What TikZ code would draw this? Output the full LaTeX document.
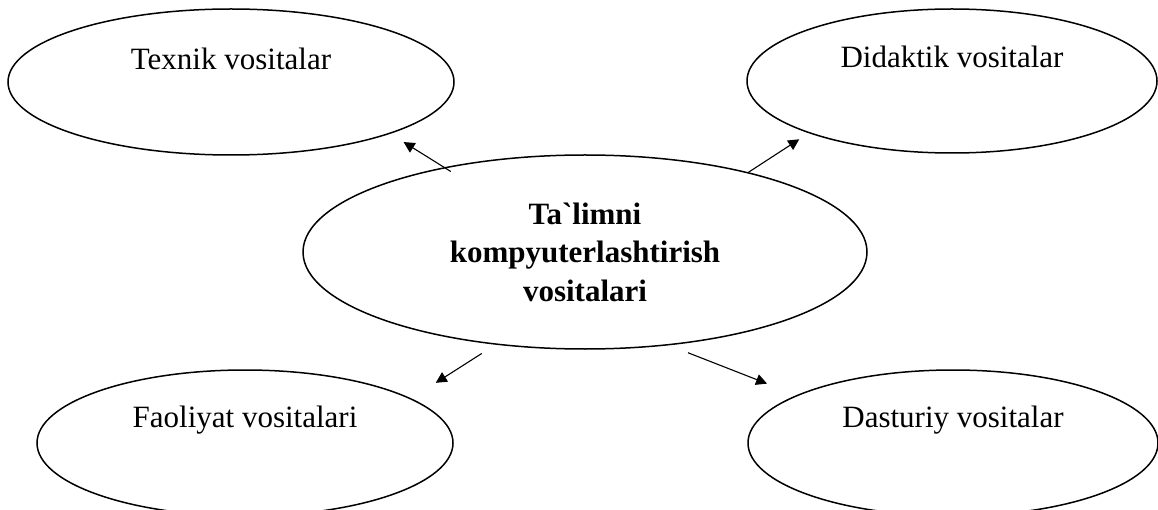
\documentclass[tikz,border=0pt]{standalone}
\usepackage{fontspec}
\setmainfont{Liberation Serif}
\usetikzlibrary{shapes.geometric,arrows.meta}
\begin{document}
\begin{tikzpicture}[x=1pt,y=-1pt,
  ell/.style={draw, ellipse, line width=1.5pt, inner sep=0pt},
  lbl/.style={font=\fontsize{31}{36}\selectfont, text height=21pt, text depth=6pt, inner sep=0pt},
  arr/.style={line width=1.1pt, -{Triangle[length=11pt,width=11pt]}}]
\useasboundingbox[fill=white] (0,0) rectangle (1158,510);
\node[ell, minimum width=446pt, minimum height=146pt,
  label={[lbl,yshift=20pt]center:Texnik vositalar}] (tl) at (231,82) {};
\node[ell, minimum width=410pt, minimum height=144pt,
  label={[lbl,yshift=21pt]center:Didaktik vositalar}] (tr) at (952,81) {};
\node[ell, minimum width=416pt, minimum height=146pt,
  label={[lbl,yshift=23pt]center:Faoliyat vositalari}] (bl) at (245,443) {};
\node[ell, minimum width=410pt, minimum height=146pt,
  label={[lbl,yshift=23pt]center:Dasturiy vositalar}] (br) at (953,443) {};
\node[ell, minimum width=564pt, minimum height=194pt, align=center,
  font=\fontsize{31}{38.5}\selectfont\bfseries] (c) at (585,252)
  {Ta\textasciigrave limni\\kompyuterlashtirish\\vositalari};
\draw[arr, shorten <=-8pt, shorten >=15.6pt] (c.149) -- (tl.-18.6);
\draw[arr, shorten >=11.2pt] (c.26.1) -- (tr.-160.9);
\draw[arr, shorten <=16.3pt, shorten >=29pt] (c.-134) -- (bl.15.7);
\draw[arr, shorten <=20.4pt, shorten >=31.6pt] (c.-48.2) -- (br.163.6);
\end{tikzpicture}
\end{document}
